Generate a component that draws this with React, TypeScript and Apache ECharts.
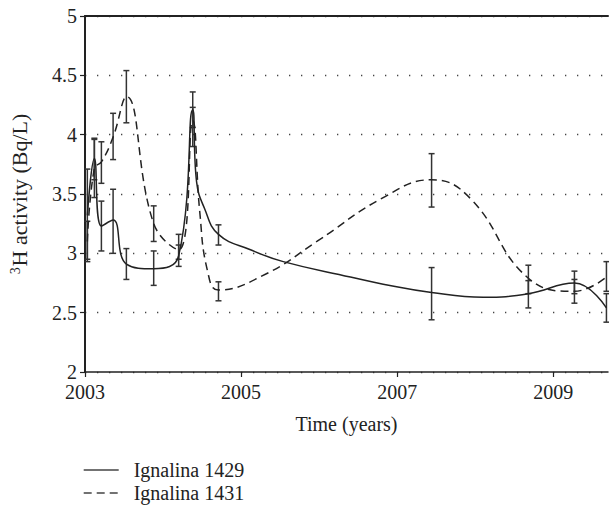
import React, { useEffect, useRef } from "react";
import * as echarts from "echarts";

// ---- data ----
const yearTicks = [2003, 2005, 2007, 2009];

const years1429 = [2003.03, 2003.12, 2003.21, 2003.36, 2003.53, 2003.88, 2004.2, 2004.38, 2004.43, 2004.53, 2004.71, 2005.12, 2005.54, 2006.4, 2006.82, 2007.44, 2008.1, 2008.68, 2009.27, 2009.68];
const values1429 = [3.32, 3.8, 3.23, 3.28, 2.91, 2.87, 2.98, 4.21, 3.6, 3.38, 3.16, 3.03, 2.93, 2.8, 2.74, 2.67, 2.63, 2.66, 2.75, 2.54];

const years1431 = [2003.03, 2003.12, 2003.21, 2003.36, 2003.53, 2003.88, 2004.2, 2004.38, 2004.47, 2004.57, 2004.71, 2005.33, 2005.97, 2006.82, 2007.44, 2007.94, 2008.68, 2009.27, 2009.68];
const values1431 = [3.1, 3.72, 3.77, 3.98, 4.32, 3.25, 3.03, 4.12, 3.35, 2.85, 2.69, 2.83, 3.1, 3.47, 3.62, 3.46, 2.79, 2.68, 2.8];

const errYears = [2003.03, 2003.12, 2003.21, 2003.36, 2003.53, 2003.88, 2004.2, 2004.38, 2004.71, 2007.44, 2008.68, 2009.27, 2009.68];
const errLow1429 = [2.93, 3.62, 3.02, 3.0, 2.78, 2.73, 2.89, 4.06, 3.07, 2.44, 2.54, 2.66, 2.42];
const errHigh1429 = [3.71, 3.97, 3.44, 3.54, 3.04, 3.02, 3.07, 4.36, 3.24, 2.88, 2.77, 2.85, 2.66];
const errLow1431 = [2.95, 3.47, 3.59, 3.79, 4.1, 3.1, 2.95, 3.9, 2.6, 3.39, 2.66, 2.58, 2.68];
const errHigh1431 = [3.27, 3.96, 3.94, 4.18, 4.54, 3.4, 3.16, 4.23, 2.76, 3.84, 2.9, 2.78, 2.93];

const FONT = "'Liberation Serif', 'Times New Roman', serif";
const INK = "#222";

function errorSeries(name: string, xs: number[], lo: number[], hi: number[]) {
  return {
    type: "custom",
    name,
    silent: true,
    z: 3,
    data: xs.map((x, i) => [x, lo[i], hi[i]]),
    encode: { x: 0, y: [1, 2] },
    renderItem: (_params: any, api: any) => {
      const x = api.value(0);
      const p1 = api.coord([x, api.value(1)]);
      const p2 = api.coord([x, api.value(2)]);
      const w = 3;
      const style = { stroke: "#333", lineWidth: 1.5, fill: null };
      return {
        type: "group",
        children: [
          { type: "line", shape: { x1: p1[0], y1: p1[1], x2: p2[0], y2: p2[1] }, style },
          { type: "line", shape: { x1: p1[0] - w, y1: p1[1], x2: p1[0] + w, y2: p1[1] }, style },
          { type: "line", shape: { x1: p2[0] - w, y1: p2[1], x2: p2[0] + w, y2: p2[1] }, style },
        ],
      };
    },
  };
}

export default function App() {
  const ref = useRef<HTMLDivElement>(null);
  useEffect(() => {
    if (!ref.current) return;
    const chart = echarts.init(ref.current, undefined, { renderer: "svg" });
    const option: any = {
      animation: false,
      backgroundColor: "#fff",
      textStyle: { fontFamily: FONT },
      grid: { left: 85, right: 1, top: 16, bottom: 135 },
      legend: {
        orient: "vertical",
        left: 78,
        top: 455,
        height: 50,
        itemWidth: 35,
        itemHeight: 10,
        itemGap: 3,
        data: ["Ignalina 1429", "Ignalina 1431"],
        itemStyle: { color: "transparent", borderColor: "transparent", borderWidth: 0, opacity: 0 },
        lineStyle: { color: "#444", width: 1.4 },
        textStyle: { fontFamily: FONT, fontSize: 20, lineHeight: 20, color: INK, padding: [0, 0, 0, 10] },
      },
      xAxis: [
        {
          type: "value",
          min: 2003,
          max: 2009.7,
          interval: 2,
          name: "Time (years)",
          nameLocation: "middle",
          nameGap: 42,
          nameTextStyle: { fontFamily: FONT, fontSize: 20, color: INK },
          axisLine: { show: true, lineStyle: { color: INK, width: 1.5 } },
          axisTick: { show: true, inside: false, length: 5, lineStyle: { color: INK, width: 1.2 }, customValues: yearTicks },
          axisLabel: {
            fontFamily: FONT,
            fontSize: 20,
            color: INK,
            margin: 10,
            customValues: yearTicks,
            formatter: (v: number) => String(v),
          },
          splitLine: { show: false },
        },
        {
          type: "value",
          position: "top",
          min: 2003,
          max: 2009.7,
          axisLine: { show: true, onZero: false, lineStyle: { color: INK, width: 2 } },
          axisTick: { show: false },
          axisLabel: { show: false },
          splitLine: { show: false },
        },
      ],
      yAxis: {
        type: "value",
        min: 2,
        max: 5,
        interval: 0.5,
        name: "{s|3}H activity (Bq/L)",
        nameLocation: "middle",
        nameGap: 54,
        nameTextStyle: {
          fontFamily: FONT,
          fontSize: 22,
          color: INK,
          rich: { s: { fontFamily: FONT, fontSize: 14, color: INK, verticalAlign: "top", padding: [0, 1, 9, 0] } },
        },
        axisLine: { show: true, lineStyle: { color: INK, width: 2 } },
        axisTick: { show: true, inside: false, length: 5, lineStyle: { color: INK, width: 1.2 } },
        axisLabel: { fontFamily: FONT, fontSize: 20, color: INK, margin: 8 },
        splitLine: { show: true, lineStyle: { color: "#444", width: 1.3, type: [1.3, 10.7] } },
      },
      series: [
        {
          name: "Ignalina 1429",
          type: "line",
          data: years1429.map((x, i) => [x, values1429[i]]),
          smooth: 0.45,
          showSymbol: false,
          symbol: "none",
          color: INK,
          lineStyle: { color: INK, width: 1.5, type: "solid" },
          z: 4,
        },
        {
          name: "Ignalina 1431",
          type: "line",
          data: years1431.map((x, i) => [x, values1431[i]]),
          smooth: 0.45,
          showSymbol: false,
          symbol: "none",
          color: INK,
          lineStyle: { color: INK, width: 1.5, type: [8, 5] },
          z: 4,
        },
        errorSeries("err1429", errYears, errLow1429, errHigh1429),
        errorSeries("err1431", errYears, errLow1431, errHigh1431),
      ],
    };
    chart.setOption(option);
    return () => chart.dispose();
  }, []);
  return (
    <div
      ref={ref}
      style={{ position: "fixed", left: 0, top: 0, width: 609, height: 507, background: "#fff" }}
    />
  );
}
